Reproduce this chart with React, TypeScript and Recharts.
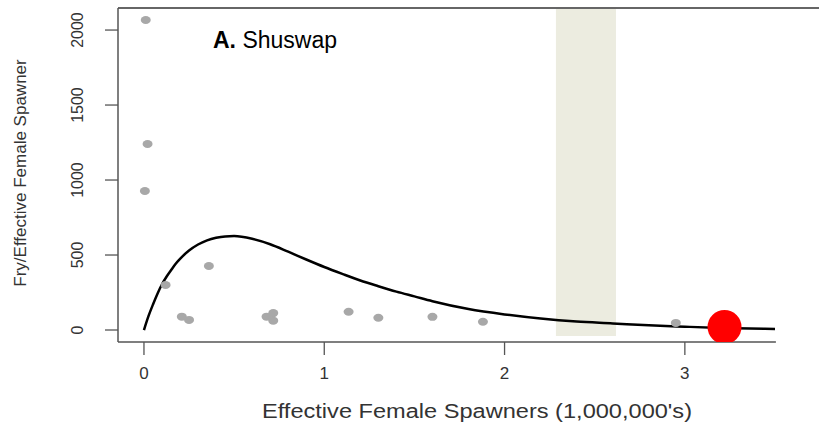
import {
  ComposedChart, Line, Scatter, XAxis, YAxis, ReferenceArea, ReferenceLine,
} from 'recharts';

// fitted fry-per-spawner curve, read at these spawner levels (millions)
const curveSpawners = [0, 0.025, 0.05, 0.075, 0.1, 0.125, 0.15, 0.175, 0.2, 0.25, 0.3, 0.35, 0.4, 0.45, 0.5, 0.6, 0.7, 0.8, 0.9, 1.0, 1.1, 1.2, 1.3, 1.4, 1.5, 1.6, 1.8, 2.0, 2.2, 2.4, 2.6, 2.8, 3.0, 3.2, 3.5];
const curveFry = [0, 92, 170, 242, 305, 355, 398, 440, 474, 530, 570, 598, 615, 624, 626, 608, 572, 522, 470, 420, 374, 330, 292, 256, 224, 192, 140, 104, 76, 56, 44, 31, 22, 14, 7];

// observed brood years
const obsSpawners = [0.01, 0.02, 0.005, 0.12, 0.21, 0.25, 0.36, 0.68, 0.717, 0.717, 1.135, 1.3, 1.6, 1.88, 2.95];
const obsFry = [2067, 1240, 927, 300, 89, 67, 427, 89, 113, 62, 122, 82, 88, 55, 47];

// current year
const currentSpawners = [3.22];
const currentFry = [20];

// shaded range of spawners
const bandStart = 2.285;
const bandEnd = 2.618;

const xTicks = [0, 1, 2, 3];
const yTicks = [0, 500, 1000, 1500, 2000];

const X_MIN = -0.144;
const X_MAX = 3.744;
const Y_MIN = -80;
const Y_MAX = 2147;

const curve = curveSpawners.map((x, i) => ({ x, y: curveFry[i] }));
const observed = obsSpawners.map((x, i) => ({ x, y: obsFry[i] }));
const current = currentSpawners.map((x, i) => ({ x, y: currentFry[i] }));

const font = '"Liberation Sans", Arial, sans-serif';
const axisColor = '#555';

const XTick = ({ x, payload }: any) => (
  <text x={x} y={379} textAnchor="middle" fontSize={17} fontFamily={font} fill="#333">
    {payload.value}
  </text>
);

const YTick = ({ y, payload }: any) => (
  <text
    transform={`translate(83, ${y}) rotate(-90)`}
    textAnchor="middle"
    fontSize={16}
    fontFamily={font}
    fill="#333"
  >
    {payload.value}
  </text>
);

const GreyDot = ({ cx, cy }: any) => <ellipse cx={cx} cy={cy} rx={5} ry={4} fill="#A8A8A8" />;
const RedDot = ({ cx, cy }: any) => <circle cx={cx} cy={cy} r={17} fill="#FF0000" />;

export default function App() {
  return (
    <div style={{ position: 'absolute', left: 0, top: 0, background: '#fff' }}>
      <ComposedChart width={819} height={426} margin={{ top: 8, right: 0, bottom: 0, left: 0 }}>
        <XAxis
          type="number"
          dataKey="x"
          domain={[X_MIN, X_MAX]}
          ticks={xTicks}
          allowDataOverflow
          axisLine={false}
          tickLine={{ stroke: axisColor, strokeWidth: 1.3 }}
          tickSize={13}
          height={84}
          tick={<XTick />}
        />
        <YAxis
          type="number"
          dataKey="y"
          domain={[Y_MIN, Y_MAX]}
          ticks={yTicks}
          allowDataOverflow
          axisLine={{ stroke: axisColor, strokeWidth: 1.5 }}
          tickLine={{ stroke: axisColor, strokeWidth: 1.3 }}
          tickSize={13}
          width={118}
          tick={<YTick />}
        />
        <ReferenceLine y={Y_MAX} stroke="#666" strokeWidth={2} ifOverflow="visible" />
        <ReferenceLine
          segment={[{ x: X_MIN, y: Y_MIN }, { x: 3.505, y: Y_MIN }]}
          stroke={axisColor}
          strokeWidth={1.5}
          ifOverflow="visible"
        />
        <Scatter data={observed} dataKey="y" shape={<GreyDot />} isAnimationActive={false} />
        <Line
          data={curve}
          dataKey="y"
          type="monotone"
          stroke="#000"
          strokeWidth={2.5}
          dot={false}
          isAnimationActive={false}
        />
        <ReferenceArea
          x1={bandStart}
          x2={bandEnd}
          y1={-40}
          y2={Y_MAX}
          fill="#E4E4D3"
          fillOpacity={0.7}
          stroke="none"
          ifOverflow="visible"
        />
        <Scatter data={current} dataKey="y" shape={<RedDot />} isAnimationActive={false} />
        <text x={213} y={48} fontSize={23} fontFamily={font} fill="#000">
          <tspan fontWeight="bold">A.</tspan> Shuswap
        </text>
        <text
          transform="translate(26, 173) rotate(-90)"
          textAnchor="middle"
          fontSize={17}
          fontFamily={font}
          fill="#333"
        >
          Fry/Effective Female Spawner
        </text>
        <text
          x={262}
          y={418}
          fontSize={20}
          fontFamily={font}
          fill="#333"
          textLength={430}
          lengthAdjust="spacingAndGlyphs"
        >
          Effective Female Spawners (1,000,000's)
        </text>
      </ComposedChart>
    </div>
  );
}
